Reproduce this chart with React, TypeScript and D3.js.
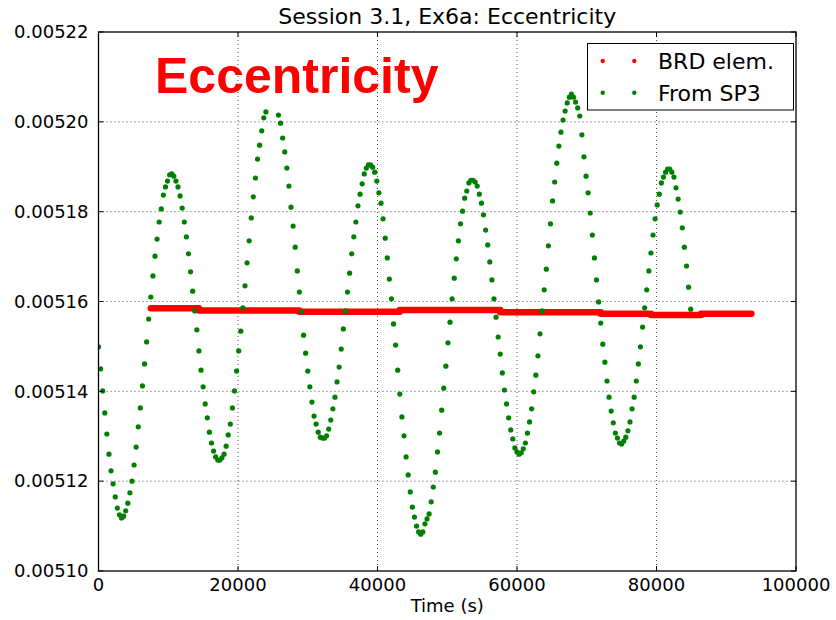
import React from "react";
import * as d3 from "d3";

// SP3-derived eccentricity, one sample every 300 s starting at t = 0 (null = no epoch)
const sp3Step = 300;
const sp3Ecc: (number | null)[] = [
  0.0051499, 0.005145, 0.0051401, 0.0051352, 0.0051305, 0.005126, 0.0051223, 0.0051194, 0.0051165, 0.005114,
  0.0051125, 0.0051118, 0.0051122, 0.0051134, 0.0051151, 0.0051174, 0.00512, 0.0051236, 0.0051276, 0.0051321,
  0.0051363, 0.0051412, 0.0051461, 0.005151, 0.0051561, 0.005161, 0.0051657, 0.0051701, 0.0051739, 0.0051777,
  0.0051806, 0.0051837, 0.0051855, 0.0051868, 0.0051882, 0.0051884, 0.0051879, 0.0051868, 0.0051855, 0.0051835,
  0.0051808, 0.0051777, 0.0051744, 0.0051706, 0.0051666, 0.0051623, 0.0051579, 0.0051537, 0.005149, 0.0051447,
  0.005141, 0.0051372, 0.0051341, 0.0051309, 0.0051285, 0.0051267, 0.0051254, 0.0051247, 0.0051247, 0.0051252,
  0.005126, 0.0051278, 0.0051303, 0.0051327, 0.0051363, 0.0051401, 0.0051445, 0.005149, 0.0051534, 0.0051586,
  0.0051635, 0.0051686, 0.0051735, 0.0051786, 0.0051833, 0.0051875, 0.0051917, 0.0051948, 0.005198, 0.0052009,
  0.0052022, null, null, null, null, null, 0.0052015, 0.0051997, 0.0051964, 0.0051933,
  0.0051897, 0.0051857, 0.005181, 0.0051768, 0.0051721, 0.0051668, 0.0051621, 0.0051577, 0.0051525, 0.0051485,
  0.0051445, 0.005141, 0.0051376, 0.0051345, 0.0051327, 0.0051309, 0.0051298, 0.0051296, 0.0051296, 0.0051301,
  0.0051316, 0.0051336, 0.0051361, 0.0051387, 0.0051421, 0.0051454, 0.0051494, 0.0051539, 0.0051579, 0.0051621,
  0.0051663, 0.0051706, 0.0051744, 0.0051777, 0.0051813, 0.0051839, 0.0051862, 0.0051884, 0.0051897, 0.0051904,
  0.0051904, 0.0051899, 0.0051888, 0.0051868, 0.0051842, 0.0051819, 0.0051784, 0.0051741, 0.0051697, 0.005165,
  0.0051606, 0.005155, 0.0051503, 0.0051447, 0.0051394, 0.0051343, 0.0051301, 0.0051254, 0.0051214, 0.0051176,
  0.0051142, 0.005112, 0.00511, 0.0051087, 0.0051082, 0.0051087, 0.0051105, 0.0051116, 0.0051127, 0.0051154,
  0.0051187, 0.005122, 0.0051265, 0.0051307, 0.0051358, 0.0051407, 0.0051456, 0.0051508, 0.0051554, 0.0051606,
  0.0051652, 0.0051695, 0.0051735, 0.0051773, 0.0051801, 0.005183, 0.0051846, 0.0051864, 0.005187, 0.005187,
  0.0051866, 0.0051857, 0.0051839, 0.0051819, 0.0051793, 0.0051759, 0.0051726, 0.0051688, 0.0051648, 0.0051606,
  0.0051565, 0.0051521, 0.0051483, 0.0051441, 0.0051403, 0.0051372, 0.0051341, 0.0051314, 0.0051294, 0.0051274,
  0.0051265, 0.005126, 0.0051263, 0.0051272, 0.0051285, 0.0051307, 0.0051332, 0.0051361, 0.0051399, 0.0051436,
  0.0051479, 0.0051528, 0.0051579, 0.0051626, 0.0051672, 0.0051724, 0.0051773, 0.0051824, 0.0051866, 0.0051908,
  0.0051946, 0.0051977, 0.0052004, 0.0052024, 0.0052042, 0.0052055, 0.0052062, 0.0052055, 0.0052044, 0.0052031,
  0.0052013, 0.0051971, 0.0051922, 0.0051879, 0.0051842, 0.0051797, 0.0051748, 0.0051697, 0.0051648, 0.0051599,
  0.0051552, 0.0051505, 0.0051465, 0.0051423, 0.0051387, 0.0051356, 0.005133, 0.0051307, 0.0051296, 0.0051285,
  0.0051283, 0.0051289, 0.0051298, 0.0051312, 0.0051332, 0.0051361, 0.0051387, 0.0051423, 0.0051461, 0.0051499,
  0.0051543, 0.0051586, 0.0051626, 0.0051668, 0.0051708, 0.0051748, 0.0051784, 0.0051815, 0.0051839, 0.0051864,
  0.0051877, 0.0051888, 0.0051895, 0.0051895, 0.0051888, 0.0051877, 0.0051853, 0.0051828, 0.0051799, 0.0051764,
  0.0051721, 0.0051679, 0.0051632, 0.0051583,
];

// Broadcast (BRD) elements: eccentricity held constant over each validity block
const brdStart = [7500, 14400, 28800, 43200, 57600, 72000, 79200, 86400];
const brdEnd = [14400, 28800, 43200, 57600, 72000, 79200, 86400, 93600];
const brdEcc = [0.0051585, 0.005158, 0.0051577, 0.0051581, 0.0051576, 0.0051573, 0.005157, 0.0051573];

const xTicks = [0, 20000, 40000, 60000, 80000, 100000];
const yTicks = [0.0051, 0.00512, 0.00514, 0.00516, 0.00518, 0.0052, 0.00522];

const legendLabels = ["BRD elem.", "From SP3"];
const legendColors = ["#ff0000", "#008000"];

const FONT = "'DejaVu Sans', sans-serif";

export default function App() {
  const W = 836;
  const H = 620;
  const left = 98.5;
  const right = 796;
  const top = 32;
  const bottom = 571;

  const x = d3.scaleLinear().domain([0, 100000]).range([left, right]);
  const y = d3.scaleLinear().domain([0.0051, 0.00522]).range([bottom, top]);
  const fmt = d3.format(".5f");

  const sp3Points = sp3Ecc
    .map((v, i) => ({ t: i * sp3Step, v }))
    .filter((d) => d.v !== null) as { t: number; v: number }[];

  const brdLine = d3
    .line<[number, number]>()
    .x((d) => x(d[0]))
    .y((d) => y(d[1]));

  const tickLen = 5;

  return (
    <svg
      width={W}
      height={H}
      viewBox={`0 0 ${W} ${H}`}
      style={{ position: "fixed", left: 0, top: 0, background: "#fff" }}
      fontFamily={FONT}
    >
      <defs>
        <clipPath id="plotClip">
          <rect x={left} y={top} width={right - left} height={bottom - top} />
        </clipPath>
      </defs>
      <rect x={0} y={0} width={W} height={H} fill="#fff" />

      {/* grid */}
      <g stroke="#000" strokeWidth={0.9} strokeDasharray="1,3" opacity={0.75}>
        {xTicks.slice(1, -1).map((t) => (
          <line key={`gx${t}`} x1={x(t)} x2={x(t)} y1={top} y2={bottom} />
        ))}
        {yTicks.slice(1, -1).map((t) => (
          <line key={`gy${t}`} x1={left} x2={right} y1={y(t)} y2={y(t)} />
        ))}
      </g>

      {/* series */}
      <g clipPath="url(#plotClip)">
        {brdEcc.map((v, i) => (
          <path
            key={`brd${i}`}
            d={brdLine([
              [brdStart[i], v],
              [brdEnd[i], v],
            ]) as string}
            stroke="#ff0000"
            strokeWidth={6.5}
            strokeLinecap="round"
            fill="none"
          />
        ))}
        {sp3Points.map((d, i) => (
          <circle key={`sp3${i}`} cx={x(d.t)} cy={y(d.v)} r={2.6} fill="#008000" />
        ))}
      </g>

      {/* frame */}
      <rect x={left} y={top} width={right - left} height={bottom - top} fill="none" stroke="#000" strokeWidth={1.3} />

      {/* ticks */}
      <g stroke="#000" strokeWidth={1}>
        {xTicks.map((t) => (
          <g key={`tx${t}`}>
            <line x1={x(t)} x2={x(t)} y1={bottom} y2={bottom - tickLen} />
            <line x1={x(t)} x2={x(t)} y1={top} y2={top + tickLen} />
          </g>
        ))}
        {yTicks.map((t) => (
          <g key={`ty${t}`}>
            <line x1={left} x2={left + tickLen} y1={y(t)} y2={y(t)} />
            <line x1={right} x2={right - tickLen} y1={y(t)} y2={y(t)} />
          </g>
        ))}
      </g>

      {/* tick labels */}
      <g fontSize={18} fill="#000">
        {xTicks.map((t) => (
          <text key={`lx${t}`} x={x(t)} y={591} textAnchor="middle">
            {t}
          </text>
        ))}
        {yTicks.map((t) => (
          <text key={`ly${t}`} x={left - 10} y={y(t)} dy="0.35em" textAnchor="end">
            {fmt(t)}
          </text>
        ))}
      </g>

      {/* axis label and title */}
      <text x={(left + right) / 2} y={612} textAnchor="middle" fontSize={18}>
        Time (s)
      </text>
      <text x={(left + right) / 2} y={24} textAnchor="middle" fontSize={22}>
        Session 3.1, Ex6a: Eccentricity
      </text>

      {/* annotation */}
      <text
        x={155}
        y={93}
        fontFamily="'Liberation Sans', Arial, sans-serif"
        fontWeight="bold"
        fontSize={50}
        fill="#ff0000"
      >
        Eccentricity
      </text>

      {/* legend */}
      <g>
        <rect x={587.5} y={43.5} width={206} height={66.5} fill="#fff" stroke="#000" strokeWidth={1} />
        {legendLabels.map((label, i) => {
          const cy = 61 + i * 31.7;
          return (
            <g key={label}>
              <circle cx={602.7} cy={cy} r={2.2} fill={legendColors[i]} />
              <circle cx={634.3} cy={cy} r={2.2} fill={legendColors[i]} />
              <text x={658} y={cy} dy="0.36em" fontSize={22}>
                {label}
              </text>
            </g>
          );
        })}
      </g>
    </svg>
  );
}
